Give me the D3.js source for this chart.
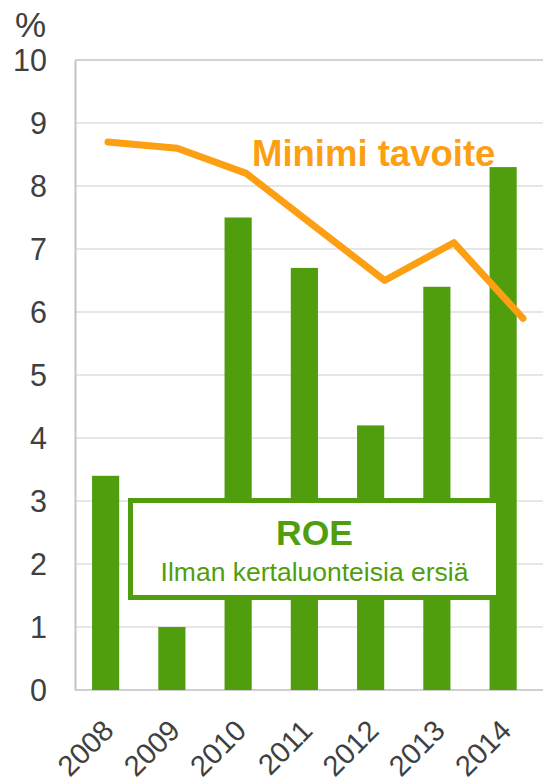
<!DOCTYPE html>
<html>
<head>
<meta charset="utf-8">
<script src="https://cdn.jsdelivr.net/npm/d3@7"></script>
<style>
html,body{margin:0;padding:0;background:#fff;}
svg{display:block;font-family:"Liberation Sans",Arial,sans-serif;}
</style>
</head>
<body>
<svg id="chart" width="543" height="783"></svg>
<script>
const years = ["2008","2009","2010","2011","2012","2013","2014"];
const roe = [3.4, 1.0, 7.5, 6.7, 4.2, 6.4, 8.3];
const target = [8.7, 8.6, 8.2, 7.35, 6.5, 7.1, 5.9];
const yTicks = [0,1,2,3,4,5,6,7,8,9,10];
const unitLabel = "%";
const lineLabel = "Minimi tavoite";
const boxTitle = "ROE";
const boxSubtitle = "Ilman kertaluonteisia ersiä";

const green = "#509e0e";
const orange = "#fd9f12";
const textCol = "#404040";

const svg = d3.select("#chart");
const y = d3.scaleLinear().domain([0,10]).range([690,60]);
const x = d3.scaleBand().domain(years).range([72.5,536.25]).paddingInner(0.59).paddingOuter(0.295);
const xl = d3.scalePoint().domain(years).range([108,523]);

// gridlines
svg.append("g").selectAll("line").data(yTicks.filter(t=>t>0)).join("line")
  .attr("x1",75).attr("x2",543)
  .attr("y1",d=>y(d)).attr("y2",d=>y(d))
  .attr("stroke",d=>d===10?"#c4c4c4":"#dedede").attr("stroke-width",1.5);

// y axis
const yAxis = svg.append("g").attr("transform","translate(75,0)")
  .call(d3.axisLeft(y).tickValues(yTicks).tickSize(0).tickPadding(28).tickFormat(d3.format("d")));
yAxis.select(".domain").attr("stroke","#c4c4c4").attr("stroke-width",2);
yAxis.selectAll("text").attr("font-size",30.5).attr("fill",textCol)
  .attr("font-family","Liberation Sans, Arial, sans-serif").attr("dy","0.35em");

// x axis baseline
svg.append("line").attr("x1",75).attr("x2",543).attr("y1",y(0)).attr("y2",y(0))
  .attr("stroke","#d0d0d0").attr("stroke-width",2);

// bars
svg.append("g").selectAll("rect").data(years).join("rect")
  .attr("x",d=>x(d)).attr("width",x.bandwidth())
  .attr("y",(d,i)=>y(roe[i])).attr("height",(d,i)=>y(0)-y(roe[i]))
  .attr("fill",green);

// x labels
svg.append("g").selectAll("text").data(years).join("text")
  .attr("transform",d=>`translate(${x(d)+x.bandwidth()/2-4.5},${718}) rotate(-45)`)
  .attr("text-anchor","end").attr("dy","0.7em")
  .attr("font-size",29).attr("fill",textCol).text(d=>d);

// unit label
svg.append("text").attr("x",30.5).attr("y",37).attr("text-anchor","middle")
  .attr("font-size",35).attr("fill",textCol).text(unitLabel);

// target line
svg.append("path").datum(target)
  .attr("d",d3.line().x((d,i)=>xl(years[i])).y(d=>y(d)))
  .attr("fill","none").attr("stroke",orange).attr("stroke-width",7)
  .attr("stroke-linecap","round").attr("stroke-linejoin","round");

svg.append("text").attr("x",252).attr("y",166)
  .attr("font-size",36.5).attr("font-weight","bold").attr("fill",orange).text(lineLabel);

// box
svg.append("rect").attr("x",130.5).attr("y",500.5).attr("width",368).attr("height",97)
  .attr("fill","#fff").attr("stroke",green).attr("stroke-width",5);
svg.append("text").attr("x",314.5).attr("y",545).attr("text-anchor","middle")
  .attr("font-size",35.5).attr("font-weight","bold").attr("fill",green).text(boxTitle);
svg.append("text").attr("x",314.5).attr("y",581).attr("text-anchor","middle")
  .attr("font-size",26.5).attr("fill",green).text(boxSubtitle);
</script>
</body>
</html>
